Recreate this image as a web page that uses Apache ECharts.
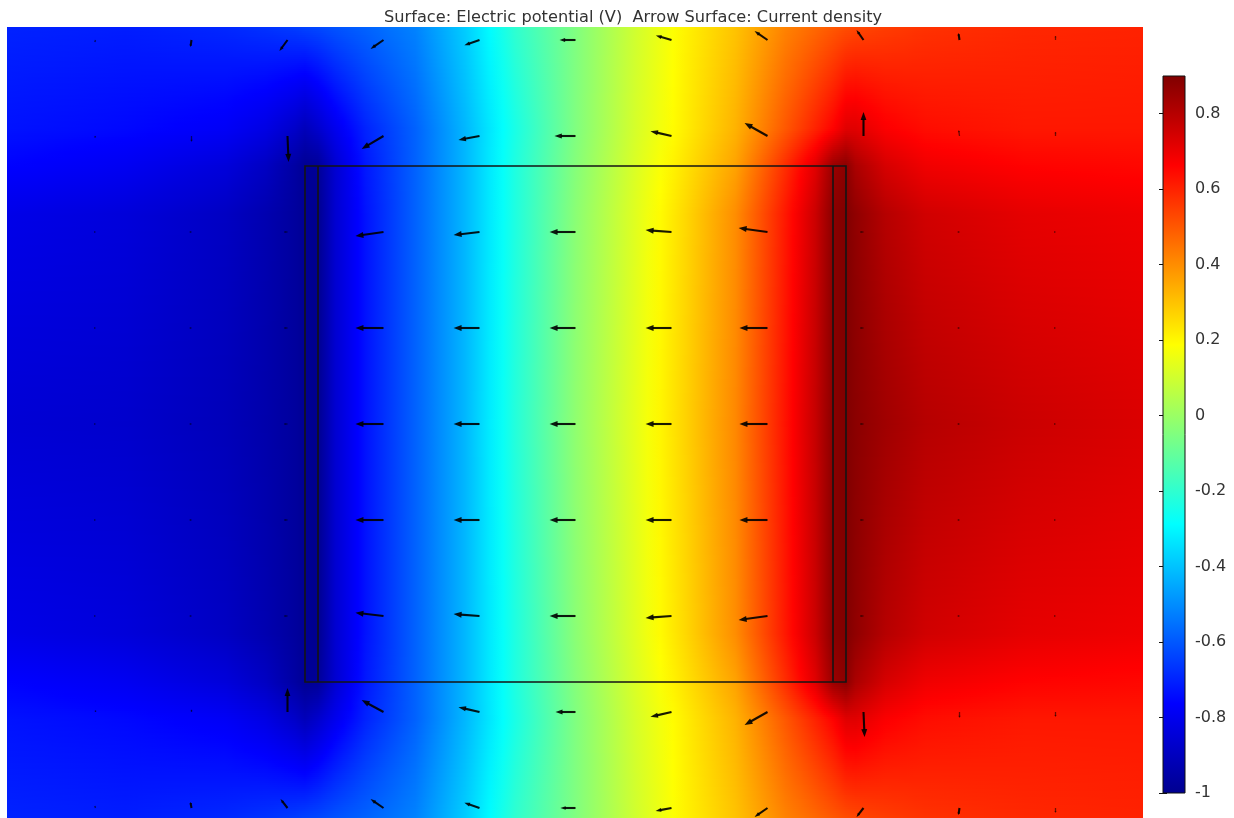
<!DOCTYPE html>
<html>
<head>
<meta charset="utf-8">
<script src="https://cdn.jsdelivr.net/npm/echarts@6/dist/echarts.min.js"></script>
<style>
  html, body { margin: 0; padding: 0; background: #fff; }
  #chart { width: 1234px; height: 818px; }
</style>
</head>
<body>
<div id="chart"></div>
<script>
// ---- model window (mm) ----
const viewX = [-11.37, 11.35];
const viewY = [-7.88, 7.94];

// ---- cell geometry: conducting block with a thin electrode on each side ----
const cellX = [-5.41, 5.41];
const cellY = [-5.16, 5.16];
const electrodeInnerX = [-5.15, 5.15];

// ---- electric potential (V) sampled on a grid ----
const sampleX = [-11.37, -9, -7, -6.2, -5.6, -5.41, -5.15, -4.8, -4.2, -3.2, -2.2, -1.2, 0,
                 1.2, 2.2, 3.2, 4.2, 4.8, 5.15, 5.41, 5.6, 6.2, 7, 9, 11.35];
const sampleY = [7.94, 5.9, 5.16, 4.2, 0, -4.2, -5.16, -5.9, -7.88];

const potTop      = [-0.70, -0.71, -0.69, -0.67, -0.65, -0.64, -0.63, -0.61, -0.58, -0.52, -0.38, -0.20, -0.05,
                      0.10, 0.21, 0.30, 0.42, 0.47, 0.50, 0.52, 0.53, 0.55, 0.57, 0.59, 0.60];
const potUpper    = [-0.73, -0.75, -0.78, -0.82, -0.88, -0.91, -0.87, -0.80, -0.70, -0.58, -0.42, -0.24, -0.05,
                      0.11, 0.22, 0.33, 0.50, 0.60, 0.66, 0.72, 0.72, 0.67, 0.64, 0.62, 0.62];
const potEdgeTop  = [-0.76, -0.79, -0.84, -0.89, -0.96, -0.99, -0.98, -0.86, -0.72, -0.58, -0.42, -0.23, -0.04,
                      0.12, 0.24, 0.36, 0.58, 0.72, 0.85, 0.88, 0.82, 0.74, 0.69, 0.66, 0.65];
const potInnerTop = [-0.81, -0.84, -0.89, -0.93, -0.97, -0.99, -1.00, -0.86, -0.73, -0.58, -0.42, -0.23, -0.03,
                      0.13, 0.26, 0.40, 0.62, 0.76, 0.88, 0.90, 0.87, 0.80, 0.75, 0.71, 0.69];
const potMid      = [-0.85, -0.87, -0.91, -0.94, -0.97, -0.99, -1.00, -0.86, -0.73, -0.58, -0.42, -0.22, -0.02,
                      0.14, 0.27, 0.41, 0.63, 0.77, 0.88, 0.90, 0.88, 0.84, 0.80, 0.76, 0.73];
const potInnerBot = [-0.81, -0.84, -0.89, -0.93, -0.97, -0.99, -1.00, -0.86, -0.73, -0.58, -0.42, -0.23, -0.03,
                      0.13, 0.26, 0.40, 0.62, 0.76, 0.88, 0.90, 0.87, 0.80, 0.75, 0.71, 0.69];
const potEdgeBot  = [-0.76, -0.79, -0.84, -0.89, -0.96, -0.99, -0.98, -0.86, -0.72, -0.58, -0.42, -0.23, -0.04,
                      0.12, 0.24, 0.36, 0.58, 0.72, 0.85, 0.88, 0.82, 0.74, 0.69, 0.66, 0.65];
const potLower    = [-0.73, -0.75, -0.78, -0.82, -0.88, -0.91, -0.87, -0.80, -0.70, -0.58, -0.42, -0.24, -0.05,
                      0.11, 0.22, 0.33, 0.50, 0.60, 0.66, 0.72, 0.72, 0.67, 0.64, 0.62, 0.62];
const potBottom   = [-0.70, -0.71, -0.69, -0.67, -0.65, -0.64, -0.63, -0.61, -0.58, -0.52, -0.38, -0.20, -0.05,
                      0.10, 0.21, 0.30, 0.42, 0.47, 0.50, 0.52, 0.53, 0.55, 0.57, 0.59, 0.60];
const potentialRows = [potTop, potUpper, potEdgeTop, potInnerTop, potMid, potInnerBot, potEdgeBot, potLower, potBottom];

// ---- current density arrows (relative magnitude, x right / y up) ----
const arrowCols = [-9.6, -7.68, -5.76, -3.84, -1.92, 0, 1.92, 3.84, 5.76, 7.68, 9.6];
const arrowRows = [7.68, 5.76, 3.84, 1.92, 0, -1.92, -3.84, -5.76, -7.68];
const currentX = [
  [-0.02, -0.04, -0.30, -0.48, -0.56, -0.59, -0.58, -0.48, -0.26, -0.04,  0.00],
  [-0.02,  0.00,  0.04, -0.81, -0.78, -0.78, -0.78, -0.85,  0.00, -0.03,  0.00],
  [-0.03, -0.05, -0.12, -1.04, -0.96, -0.96, -0.96, -1.07, -0.12, -0.05, -0.03],
  [-0.03, -0.05, -0.12, -1.04, -0.96, -0.96, -0.96, -1.04, -0.12, -0.05, -0.03],
  [-0.03, -0.05, -0.12, -1.04, -0.96, -0.96, -0.96, -1.04, -0.12, -0.05, -0.03],
  [-0.03, -0.05, -0.12, -1.04, -0.96, -0.96, -0.96, -1.04, -0.12, -0.05, -0.03],
  [-0.03, -0.05, -0.12, -1.04, -0.96, -0.96, -0.96, -1.07, -0.12, -0.05, -0.03],
  [ 0.00,  0.00,  0.00, -0.81, -0.78, -0.74, -0.78, -0.85,  0.04,  0.00,  0.00],
  [-0.02, -0.04, -0.26, -0.48, -0.56, -0.56, -0.59, -0.48, -0.26, -0.04,  0.00]
];
const currentY = [
  [-0.06, -0.26, -0.41, -0.33, -0.19,  0.00,  0.17,  0.33,  0.37,  0.26,  0.15],
  [-0.04, -0.22, -0.96, -0.48, -0.15,  0.00,  0.18,  0.48,  0.89,  0.22,  0.15],
  [ 0.00,  0.00,  0.00, -0.15, -0.11,  0.00,  0.07,  0.15,  0.00,  0.00,  0.00],
  [ 0.00,  0.00,  0.00,  0.00,  0.00,  0.00,  0.00,  0.00,  0.00,  0.00,  0.00],
  [ 0.00,  0.00,  0.00,  0.00,  0.00,  0.00,  0.00,  0.00,  0.00,  0.00,  0.00],
  [ 0.00,  0.00,  0.00,  0.00,  0.00,  0.00,  0.00,  0.00,  0.00,  0.00,  0.00],
  [ 0.00,  0.00,  0.00,  0.12,  0.07,  0.00, -0.07, -0.15,  0.00,  0.00,  0.00],
  [ 0.04,  0.07,  0.89,  0.44,  0.18,  0.00, -0.18, -0.48, -0.93, -0.22, -0.18],
  [ 0.06,  0.22,  0.33,  0.33,  0.19,  0.00, -0.11, -0.33, -0.33, -0.26, -0.18]
];
const arrowScale = 0.54; // mm of arrow per unit of current density

// ---- colour range ----
const colorRange = [-1, 0.9];
const colorTicks = [-1, -0.8, -0.6, -0.4, -0.2, 0, 0.2, 0.4, 0.6, 0.8];
const rainbow = [[0, [0, 0, 143]], [0.125, [0, 0, 255]], [0.375, [0, 255, 255]],
                 [0.625, [255, 255, 0]], [0.875, [255, 0, 0]], [1, [128, 0, 0]]];

function rainbowColor(v) {
  let t = (v - colorRange[0]) / (colorRange[1] - colorRange[0]);
  t = Math.max(0, Math.min(1, t));
  for (let i = 0; i < rainbow.length - 1; i++) {
    const a = rainbow[i], b = rainbow[i + 1];
    if (t <= b[0]) {
      const f = (t - a[0]) / (b[0] - a[0]);
      const c = a[1].map((ch, k) => Math.round(ch + (b[1][k] - ch) * f));
      return 'rgb(' + c.join(',') + ')';
    }
  }
  return 'rgb(128,0,0)';
}

// potential along a horizontal line, shaded between the two neighbouring sample rows
function rowAt(y) {
  for (let i = 0; i < sampleY.length - 1; i++) {
    if (y <= sampleY[i] && y >= sampleY[i + 1]) {
      const f = (sampleY[i] - y) / (sampleY[i] - sampleY[i + 1]);
      return potentialRows[i].map((v, k) => v + (potentialRows[i + 1][k] - v) * f);
    }
  }
  return y > sampleY[0] ? potentialRows[0] : potentialRows[potentialRows.length - 1];
}

function renderField(params, api) {
  const children = [];
  const xl = api.coord([viewX[0], 0])[0];
  const xr = api.coord([viewX[1], 0])[0];
  const colPx = sampleX.map(x => api.coord([x, 0])[0]);
  const step = 0.04, sub = 4;
  const n = Math.ceil((viewY[1] - viewY[0]) / step);
  for (let s = 0; s < n; s++) {
    const yt = viewY[1] - s * step;
    const yb = Math.max(viewY[0], yt - step);
    const pt = api.coord([0, yt])[1];
    const pb = api.coord([0, yb])[1];
    const row = rowAt((yt + yb) / 2);
    const stops = [];
    for (let i = 0; i < sampleX.length - 1; i++) {
      for (let k = 0; k < sub; k++) {
        const f = k / sub;
        const px = colPx[i] + (colPx[i + 1] - colPx[i]) * f;
        stops.push({
          offset: Math.max(0, Math.min(1, (px - xl) / (xr - xl))),
          color: rainbowColor(row[i] + (row[i + 1] - row[i]) * f)
        });
      }
    }
    stops.push({ offset: 1, color: rainbowColor(row[row.length - 1]) });
    children.push({
      type: 'rect', silent: true,
      shape: { x: xl, y: pt, width: xr - xl, height: pb - pt + 0.7 },
      style: { fill: new echarts.graphic.LinearGradient(0, 0, 1, 0, stops) }
    });
  }
  return { type: 'group', children };
}

function renderCell(params, api) {
  const tl = api.coord([cellX[0], cellY[1]]);
  const br = api.coord([cellX[1], cellY[0]]);
  const stroke = { stroke: '#141414', lineWidth: 1.6, fill: null };
  const children = [{
    type: 'rect', silent: true,
    shape: { x: tl[0], y: tl[1], width: br[0] - tl[0], height: br[1] - tl[1] },
    style: stroke
  }];
  electrodeInnerX.forEach(x => {
    const a = api.coord([x, cellY[1]]);
    const b = api.coord([x, cellY[0]]);
    children.push({ type: 'line', silent: true, shape: { x1: a[0], y1: a[1], x2: b[0], y2: b[1] }, style: stroke });
  });
  return { type: 'group', children };
}

const arrowData = [];
arrowRows.forEach((y, r) => arrowCols.forEach((x, c) => {
  arrowData.push([x, y, currentX[r][c], currentY[r][c]]);
}));

function renderArrow(params, api) {
  const x = api.value(0), y = api.value(1), jx = api.value(2), jy = api.value(3);
  const p0 = api.coord([x, y]);
  const p1 = api.coord([x + jx * arrowScale, y + jy * arrowScale]);
  const dx = p1[0] - p0[0], dy = p1[1] - p0[1];
  const len = Math.sqrt(dx * dx + dy * dy);
  if (len < 0.5) {
    return { type: 'circle', shape: { cx: p0[0], cy: p0[1], r: 0.8 }, style: { fill: 'rgba(0,0,0,0.35)' } };
  }
  const ux = dx / len, uy = dy / len;
  const hl = Math.min(8, len * 0.35), hw = Math.min(3, Math.max(1.1, len * 0.12));
  const bx = p1[0] - ux * hl, by = p1[1] - uy * hl;
  const alpha = len < 6 ? 0.55 : 0.9;
  return {
    type: 'group',
    children: [
      { type: 'line', shape: { x1: p0[0], y1: p0[1], x2: bx + ux, y2: by + uy },
        style: { stroke: 'rgba(0,0,0,' + alpha + ')', lineWidth: len < 6 ? 1.3 : 2.1 } },
      { type: 'polygon', shape: { points: [[p1[0], p1[1]], [bx - uy * hw, by + ux * hw], [bx + uy * hw, by - ux * hw]] },
        style: { fill: 'rgba(0,0,0,' + alpha + ')' } }
    ]
  };
}

function renderColorBar(params, api) {
  const tl = api.coord([0, colorRange[1]]);
  const br = api.coord([1, colorRange[0]]);
  const stops = rainbow.map(s => ({ offset: s[0], color: 'rgb(' + s[1].join(',') + ')' }));
  return {
    type: 'rect', silent: true,
    shape: { x: tl[0], y: tl[1], width: br[0] - tl[0], height: br[1] - tl[1] },
    style: { fill: new echarts.graphic.LinearGradient(0, 1, 0, 0, stops), stroke: '#111', lineWidth: 1 }
  };
}

const chart = echarts.init(document.getElementById('chart'), null, { renderer: 'canvas' });
const font = 'DejaVu Sans';
const fmt = v => (Math.abs(v) < 1e-9 ? '0' : String(+v.toFixed(1)));

chart.setOption({
  animation: false,
  backgroundColor: '#fff',
  title: {
    text: 'Surface: Electric potential (V)  Arrow Surface: Current density',
    left: 379, top: 5,
    textStyle: { fontFamily: font, fontSize: 16.2, fontWeight: 'normal', color: '#333' }
  },
  grid: [
    { left: 7, top: 27, width: 1136, height: 791 },
    { left: 1163, top: 76, width: 22, height: 717 }
  ],
  xAxis: [
    { type: 'value', gridIndex: 0, min: viewX[0], max: viewX[1], show: false },
    { type: 'value', gridIndex: 1, min: 0, max: 1, show: false }
  ],
  yAxis: [
    { type: 'value', gridIndex: 0, min: viewY[0], max: viewY[1], show: false },
    {
      type: 'value', gridIndex: 1, position: 'right', min: colorRange[0], max: colorRange[1], interval: 0.2,
      splitLine: { show: false }, axisLine: { show: false },
      axisTick: { show: true, inside: true, length: 4, lineStyle: { color: '#111' }, customValues: colorTicks },
      axisLabel: { show: true, margin: 10, fontFamily: font, fontSize: 16, color: '#333', formatter: fmt, customValues: colorTicks }
    },
    {
      type: 'value', gridIndex: 1, position: 'left', min: colorRange[0], max: colorRange[1], interval: 0.2,
      splitLine: { show: false }, axisLine: { show: false }, axisLabel: { show: false },
      axisTick: { show: true, inside: true, length: 4, lineStyle: { color: '#111' }, customValues: colorTicks }
    }
  ],
  series: [
    { type: 'custom', xAxisIndex: 0, yAxisIndex: 0, renderItem: renderField, data: [[0, 0]], clip: true, z: 1, silent: true },
    { type: 'custom', xAxisIndex: 0, yAxisIndex: 0, renderItem: renderCell, data: [[0, 0]], clip: true, z: 2, silent: true },
    { type: 'custom', xAxisIndex: 0, yAxisIndex: 0, renderItem: renderArrow, data: arrowData, clip: true, z: 3, silent: true },
    { type: 'custom', xAxisIndex: 1, yAxisIndex: 1, renderItem: renderColorBar, data: [[0, 0]], z: 1, silent: true }
  ]
});
</script>
</body>
</html>
